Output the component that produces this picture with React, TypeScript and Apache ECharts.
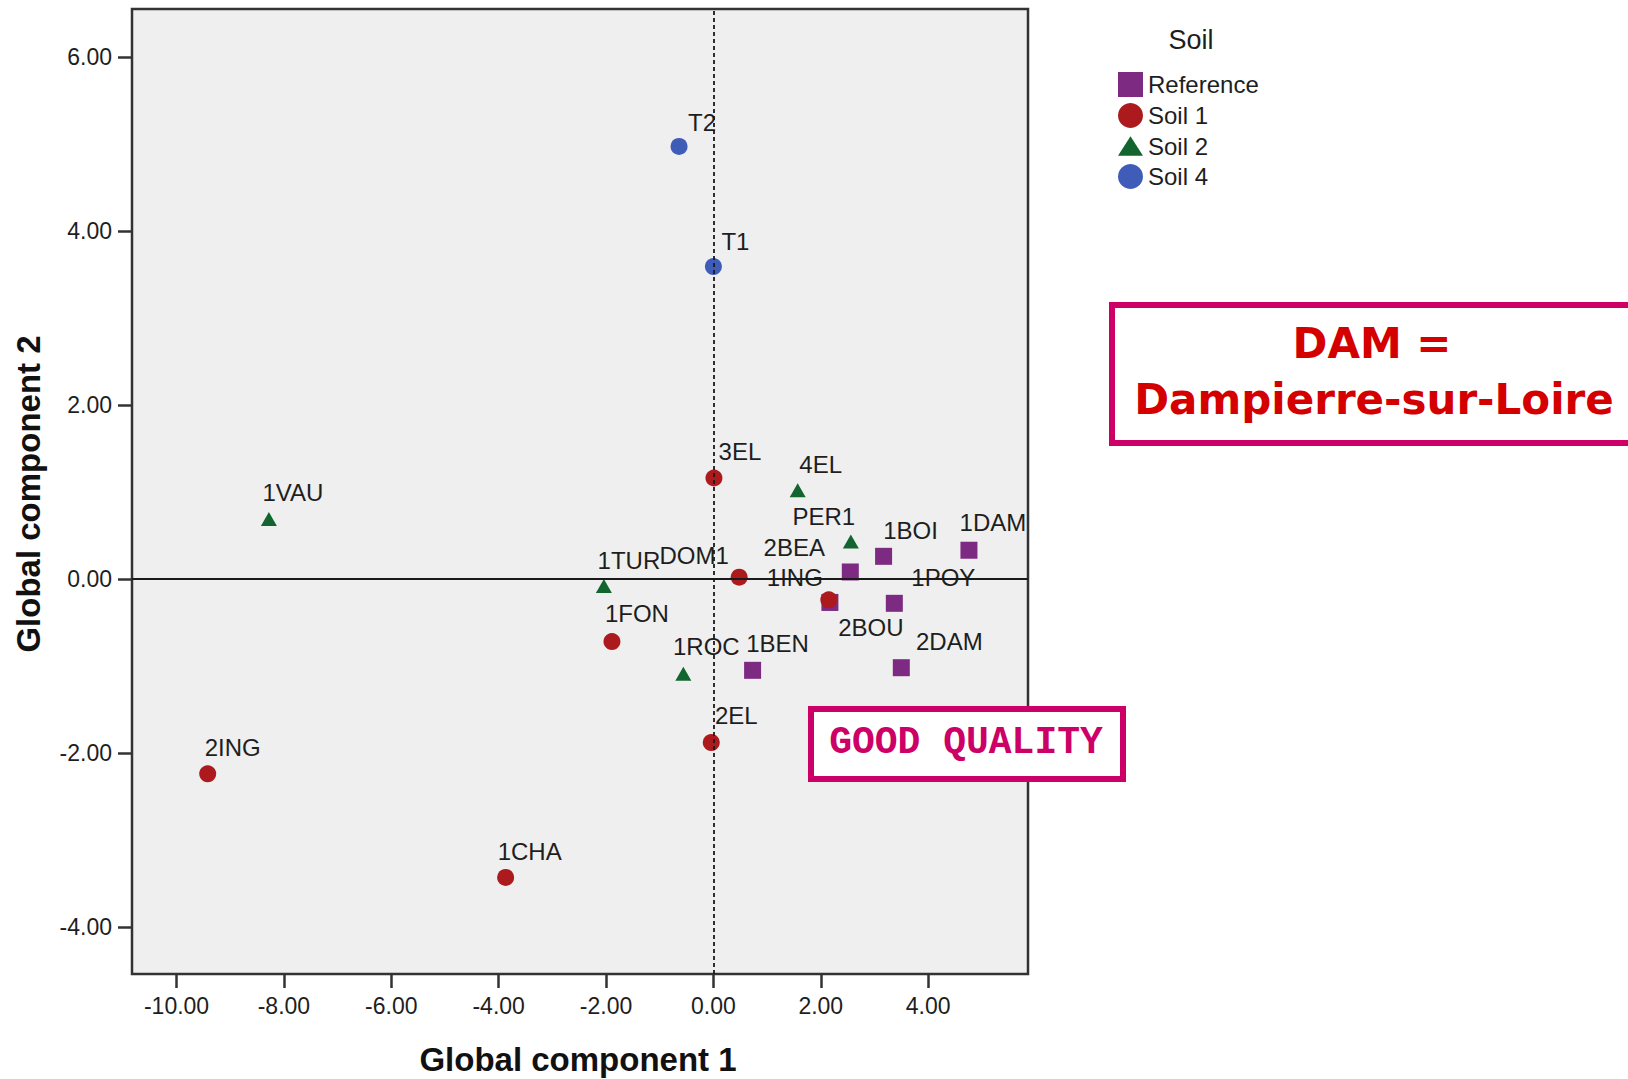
import React, { useEffect, useRef } from "react";
import * as echarts from "echarts";

// Soil groups and their sample scores on the two global components
const referenceNames = ["1BOI", "1DAM", "2BEA", "2BOU", "1POY", "1BEN", "2DAM"];
const referenceX = [3.17, 4.76, 2.55, 2.17, 3.37, 0.73, 3.5];
const referenceY = [0.26, 0.33, 0.08, -0.27, -0.28, -1.05, -1.02];

const soil1Names = ["3EL", "DOM1", "1ING", "1FON", "2EL", "2ING", "1CHA"];
const soil1X = [0.01, 0.48, 2.15, -1.89, -0.04, -9.42, -3.87];
const soil1Y = [1.16, 0.02, -0.24, -0.72, -1.88, -2.24, -3.43];

const soil2Names = ["1VAU", "4EL", "PER1", "1TUR", "1ROC"];
const soil2X = [-8.28, 1.57, 2.56, -2.04, -0.56];
const soil2Y = [0.69, 1.02, 0.43, -0.08, -1.09];

const soil4Names = ["T2", "T1"];
const soil4X = [-0.64, 0.0];
const soil4Y = [4.97, 3.59];

const xTicks = [-10, -8, -6, -4, -2, 0, 2, 4];
const yTicks = [-4, -2, 0, 2, 4, 6];

// Where each point label sits relative to its marker (px)
const labelOffsets: Record<string, [number, number]> = {
  "3EL": [26, -27],
  "4EL": [23, -26],
  PER1: [-27, -25],
  "1BOI": [27, -26],
  "1DAM": [24, -28],
  "2BEA": [-56, -24],
  DOM1: [-45, -22],
  "1TUR": [25, -25],
  "1ING": [-34, -22],
  "1POY": [49, -26],
  "2BOU": [41, 25],
  "1FON": [25, -28],
  "1ROC": [23, -27],
  "1BEN": [25, -27],
  "2DAM": [48, -26],
  "2EL": [25, -27],
  T2: [23, -24],
  T1: [22, -25],
  "2ING": [25, -26],
  "1CHA": [24, -26],
  "1VAU": [24, -26],
};

const SANS = "Arial, 'Liberation Sans', Helvetica, sans-serif";
const TEXT = "#1e1e1e";

function points(names: string[], xs: number[], ys: number[]) {
  return names.map((name, i) => ({
    name,
    value: [xs[i], ys[i]],
    label: { offset: labelOffsets[name] || [24, -26] },
  }));
}

function scatter(name: string, symbol: string, size: number | number[], color: string, data: any[]) {
  return {
    name,
    type: "scatter",
    symbol,
    symbolSize: size,
    itemStyle: { color, opacity: 1 },
    data,
    z: 3,
    label: {
      show: true,
      position: "inside",
      formatter: "{b}",
      fontFamily: SANS,
      fontSize: 24,
      color: TEXT,
    },
    emphasis: { disabled: true },
  };
}

export default function App() {
  const ref = useRef<HTMLDivElement>(null);

  useEffect(() => {
    if (!ref.current) return;
    const chart = echarts.init(ref.current, null, { renderer: "svg" });

    const fmt = (v: number) => v.toFixed(2);
    const tickStyle = { color: "#333333", width: 2.5 };
    const labelStyle = { fontFamily: SANS, fontSize: 23, color: TEXT, margin: 20, formatter: fmt };

    chart.setOption({
      animation: false,
      backgroundColor: "#ffffff",
      grid: {
        left: 132,
        top: 9,
        width: 896,
        height: 965,
        show: true,
        backgroundColor: "#efefef",
        borderColor: "#333333",
        borderWidth: 2.5,
      },
      xAxis: {
        type: "value",
        min: -10.83,
        max: 5.86,
        axisLine: { show: false, onZero: false },
        splitLine: { show: false },
        axisTick: { show: true, length: 14, customValues: xTicks, lineStyle: tickStyle },
        axisLabel: { customValues: xTicks, ...labelStyle },
      },
      yAxis: {
        type: "value",
        min: -4.54,
        max: 6.55,
        axisLine: { show: false, onZero: false },
        splitLine: { show: false },
        axisTick: { show: true, length: 14, customValues: yTicks, lineStyle: tickStyle },
        axisLabel: { customValues: yTicks, ...labelStyle },
      },
      legend: {
        orient: "vertical",
        left: 1118,
        top: 72,
        itemWidth: 25,
        itemHeight: 25,
        itemGap: 6,
        padding: 0,
        selectedMode: false,
        textStyle: { fontFamily: SANS, fontSize: 24, color: TEXT },
        data: [
          { name: "Reference", icon: "rect" },
          { name: "Soil 1", icon: "circle" },
          { name: "Soil 2", icon: "path://M11,0 L22,17 L0,17 Z" },
          { name: "Soil 4", icon: "circle" },
        ],
      },
      series: [
        scatter("Reference", "rect", 17, "#7c2a82", points(referenceNames, referenceX, referenceY)),
        scatter("Soil 1", "circle", 17, "#ac1a1e", points(soil1Names, soil1X, soil1Y)),
        scatter("Soil 2", "triangle", [16, 14], "#13652f", points(soil2Names, soil2X, soil2Y)),
        scatter("Soil 4", "circle", 17, "#3f5db8", points(soil4Names, soil4X, soil4Y)),
        {
          name: "origin",
          type: "scatter",
          data: [],
          z: 5,
          markLine: {
            silent: true,
            symbol: ["none", "none"],
            label: { show: false },
            emphasis: { disabled: true },
            data: [
              { yAxis: 0, lineStyle: { type: "solid", color: "#1a1a1a", width: 2 } },
              { xAxis: 0, lineStyle: { type: [4, 3], color: "#1a1a1a", width: 1.8 } },
            ],
          },
        },
      ],
      graphic: [
        {
          type: "text",
          x: 578,
          y: 1059,
          style: {
            text: "Global component 1",
            fontFamily: SANS,
            fontWeight: "bold",
            fontSize: 33,
            fill: "#111111",
            align: "center",
            verticalAlign: "middle",
          },
        },
        {
          type: "text",
          x: 28,
          y: 494,
          rotation: Math.PI / 2,
          style: {
            text: "Global component 2",
            fontFamily: SANS,
            fontWeight: "bold",
            fontSize: 33,
            fill: "#111111",
            align: "center",
            verticalAlign: "middle",
          },
        },
        {
          type: "text",
          x: 1191,
          y: 40,
          style: {
            text: "Soil",
            fontFamily: SANS,
            fontSize: 27,
            fill: TEXT,
            align: "center",
            verticalAlign: "middle",
          },
        },
        {
          type: "rect",
          z: 10,
          shape: { x: 811, y: 709, width: 312, height: 70 },
          style: { fill: "#ffffff", stroke: "#cc0066", lineWidth: 6 },
        },
        {
          type: "text",
          z: 11,
          x: 966,
          y: 742,
          style: {
            text: "GOOD QUALITY",
            fontFamily: "'Liberation Mono', 'Courier New', monospace",
            fontWeight: "bold",
            fontSize: 38,
            fill: "#cc0066",
            align: "center",
            verticalAlign: "middle",
          },
        },
        {
          type: "rect",
          z: 10,
          shape: { x: 1112, y: 305, width: 600, height: 138 },
          style: { fill: "#ffffff", stroke: "#cc0066", lineWidth: 6 },
        },
        {
          type: "text",
          z: 11,
          x: 1372,
          y: 343,
          style: {
            text: "DAM =",
            fontFamily: "'Comic Sans MS', 'DejaVu Sans', sans-serif",
            fontWeight: "bold",
            fontSize: 42,
            fill: "#d40000",
            align: "center",
            verticalAlign: "middle",
          },
        },
        {
          type: "text",
          z: 11,
          x: 1374,
          y: 399,
          style: {
            text: "Dampierre-sur-Loire",
            fontFamily: "'Comic Sans MS', 'DejaVu Sans', sans-serif",
            fontWeight: "bold",
            fontSize: 42,
            fill: "#d40000",
            align: "center",
            verticalAlign: "middle",
          },
        },
      ],
    });

    return () => chart.dispose();
  }, []);

  return (
    <div
      ref={ref}
      style={{ position: "fixed", left: 0, top: 0, width: 1628, height: 1079, background: "#ffffff" }}
    />
  );
}
